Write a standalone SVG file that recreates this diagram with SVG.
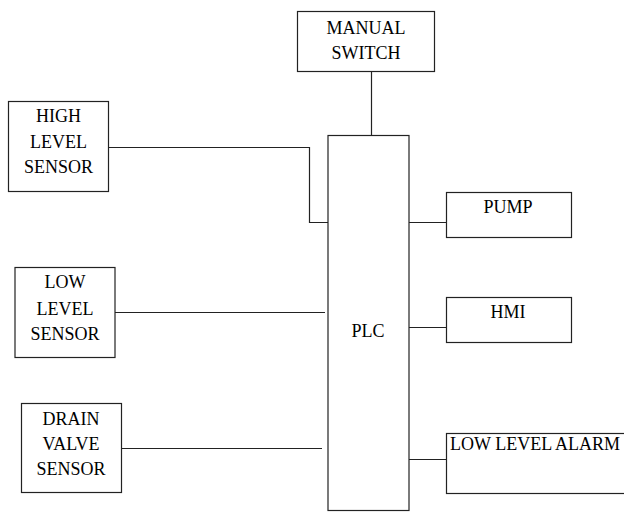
<svg xmlns="http://www.w3.org/2000/svg" width="624" height="512" viewBox="0 0 624 512">
<style>
.box{fill:#fff;stroke:#222;stroke-width:1.2}
.ln{fill:none;stroke:#222;stroke-width:1.2}
text{font-family:'Liberation Serif',serif;font-size:18px;fill:#000}
.c{text-anchor:middle}
</style>
<rect width="624" height="512" fill="#fff"/>
<g id="connectors">
<line class="ln" x1="371.5" y1="71" x2="371.5" y2="135"/>
<polyline class="ln" points="109,147.5 309.5,147.5 309.5,222.5 333,222.5"/>
<line class="ln" x1="115" y1="312.5" x2="325" y2="312.5"/>
<line class="ln" x1="121" y1="448.5" x2="322" y2="448.5"/>
<line class="ln" x1="409" y1="222.5" x2="446" y2="222.5"/>
<line class="ln" x1="409" y1="327.5" x2="446" y2="327.5"/>
<line class="ln" x1="409" y1="459.5" x2="446" y2="459.5"/>
</g>
<g id="manual-switch">
<rect class="box" x="297.5" y="11.5" width="137" height="60"/>
<text class="c" x="366" y="34">MANUAL</text>
<text class="c" x="366" y="59">SWITCH</text>
</g>
<g id="plc">
<rect class="box" x="328" y="135.5" width="81" height="375"/>
<text class="c" x="368" y="337">PLC</text>
</g>
<g id="high-level-sensor">
<rect class="box" x="8.5" y="101.5" width="100" height="90"/>
<text class="c" x="58.5" y="122">HIGH</text>
<text class="c" x="58.5" y="148">LEVEL</text>
<text class="c" x="58.5" y="173">SENSOR</text>
</g>
<g id="low-level-sensor">
<rect class="box" x="15" y="267.5" width="100" height="90"/>
<text class="c" x="65" y="288">LOW</text>
<text class="c" x="65" y="315">LEVEL</text>
<text class="c" x="65" y="340">SENSOR</text>
</g>
<g id="drain-valve-sensor">
<rect class="box" x="21.5" y="403.5" width="100" height="89"/>
<text class="c" x="71" y="425">DRAIN</text>
<text class="c" x="71" y="450">VALVE</text>
<text class="c" x="71" y="475">SENSOR</text>
</g>
<g id="pump">
<rect class="box" x="446.5" y="192.5" width="125" height="45"/>
<text class="c" x="508" y="213">PUMP</text>
</g>
<g id="hmi">
<rect class="box" x="446.5" y="297.5" width="125" height="45"/>
<text class="c" x="508" y="318">HMI</text>
</g>
<g id="low-level-alarm">
<rect class="box" x="446.5" y="433.5" width="190" height="60"/>
<text x="450" y="450">LOW LEVEL ALARM</text>
</g>
</svg>
